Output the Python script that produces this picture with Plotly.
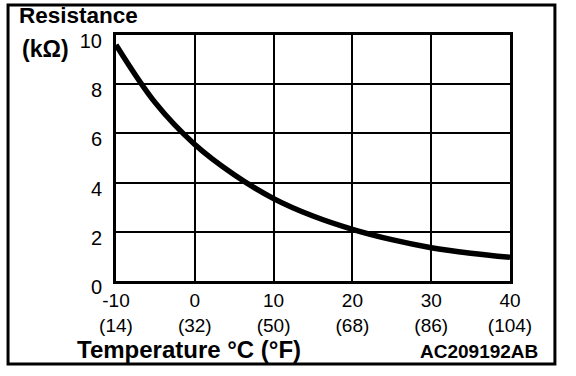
import plotly.graph_objects as go

# Data
temp_c = [-10, -5, 0, 5, 10, 15, 20, 25, 30, 35, 40]
resistance_kohm = [9.6, 7.24, 5.55, 4.32, 3.35, 2.64, 2.1, 1.68, 1.355, 1.13, 0.96]

x_tick_vals = [-10, 0, 10, 20, 30, 40]
x_tick_c = ["-10", "0", "10", "20", "30", "40"]
x_tick_f = ["(14)", "(32)", "(50)", "(68)", "(86)", "(104)"]
y_tick_vals = [0, 2, 4, 6, 8, 10]
y_tick_text = ["0", "2", "4", "6", "8", "10"]

FONT = "Liberation Sans, Arial, Helvetica, sans-serif"

fig = go.Figure()
fig.add_trace(go.Scatter(
    x=temp_c, y=resistance_kohm, mode="lines",
    line=dict(color="black", width=5.5, shape="spline", smoothing=1),
    hoverinfo="skip", showlegend=False, cliponaxis=True,
))

fig.update_layout(
    width=576, height=376,
    margin=dict(l=116, r=66, t=35, b=95),
    paper_bgcolor="white", plot_bgcolor="white",
    font=dict(family=FONT, size=20, color="black"),
    showlegend=False,
    xaxis=dict(
        range=[-10, 40], tickmode="array", tickvals=x_tick_vals,
        ticktext=[c + "<br>" + f for c, f in zip(x_tick_c, x_tick_f)],
        showgrid=True, gridcolor="black", gridwidth=2,
        showline=True, linecolor="black", linewidth=3, mirror=True,
        zeroline=False, ticks="", tickfont=dict(size=19, color="black"),
        fixedrange=True,
    ),
    yaxis=dict(
        range=[0, 10], tickmode="array", tickvals=y_tick_vals, ticktext=y_tick_text,
        showgrid=True, gridcolor="black", gridwidth=2,
        showline=True, linecolor="black", linewidth=3, mirror=True,
        zeroline=False, ticks="", ticklabelstandoff=7, ticklabelshift=6,
        tickfont=dict(size=20, color="black"), fixedrange=True,
    ),
    shapes=[dict(
        type="rect", xref="paper", yref="paper",
        x0=-0.274, x1=1.114, y0=-0.337, y1=1.122,
        line=dict(color="black", width=3), fillcolor="rgba(0,0,0,0)",
        layer="above",
    )],
    annotations=[
        dict(text="<b>Resistance</b>", xref="paper", yref="paper",
             x=-0.2513, y=1.081, xanchor="left", yanchor="middle",
             showarrow=False, font=dict(size=22.5, family=FONT, color="black")),
        dict(text="<b>(kΩ)</b>", xref="paper", yref="paper",
             x=-0.2437, y=0.945, xanchor="left", yanchor="middle",
             showarrow=False, font=dict(size=23, family=FONT, color="black")),
        dict(text="<b>Temperature °C (°F)</b>", xref="paper", yref="paper",
             x=-0.104, y=-0.280, xanchor="left", yanchor="middle",
             showarrow=False, font=dict(size=24, family=FONT, color="black")),
        dict(text="<b>AC209192AB</b>", xref="paper", yref="paper",
             x=1.076, y=-0.287, xanchor="right", yanchor="middle",
             showarrow=False, font=dict(size=19, family=FONT, color="black")),
    ],
)

fig.write_html(
    "out.html",
    config={"displayModeBar": False},
    post_script="document.body.style.margin='0';",
)
